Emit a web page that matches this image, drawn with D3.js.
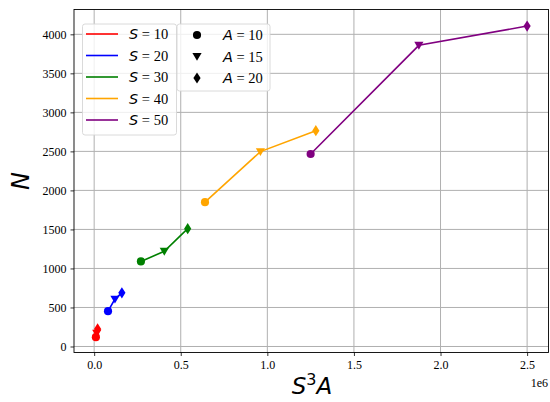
<!DOCTYPE html>
<html><head><meta charset="utf-8">
<script src="https://cdn.jsdelivr.net/npm/d3@7"></script>
<style>body{margin:0;background:#fff;} svg{display:block;}</style>
</head><body>
<script>
const sizes = [10, 20, 30, 40, 50];
const areas = [10, 15, 20];
const colors = ["red", "blue", "green", "orange", "purple"];
const N_S10 = [120, 170, 225];
const N_S20 = [453, 607, 687];
const N_S30 = [1090, 1220, 1510];
const N_S40 = [1849, 2497, 2765];
const N_S50 = [2467, 3859, 4106];
const nValues = [N_S10, N_S20, N_S30, N_S40, N_S50];
const xTicks = [0, 0.5e6, 1.0e6, 1.5e6, 2.0e6, 2.5e6];
const xTickLabels = ["0.0", "0.5", "1.0", "1.5", "2.0", "2.5"];
const yTicks = [0, 500, 1000, 1500, 2000, 2500, 3000, 3500, 4000];

const W = 550, H = 402;
const L = 74, R = 548.5, T = 9.5, B = 352.5;
const SERIF = "'Liberation Serif', 'Times New Roman', serif";
const SANS = "'DejaVu Sans', sans-serif";
const svg = d3.select("body").append("svg").attr("width", W).attr("height", H);

const x = d3.scaleLinear().domain([-0.1164e6, 2.6235e6]).range([L, R]);
const y = d3.scaleLinear().domain([-77, 4318]).range([B, T]);

// grid
const g = svg.append("g");
g.selectAll(".gx").data(xTicks).enter().append("line")
  .attr("x1", d => x(d)).attr("x2", d => x(d)).attr("y1", T).attr("y2", B)
  .attr("stroke", "#b0b0b0").attr("stroke-width", 1);
g.selectAll(".gy").data(yTicks).enter().append("line")
  .attr("y1", d => y(d)).attr("y2", d => y(d)).attr("x1", L).attr("x2", R)
  .attr("stroke", "#b0b0b0").attr("stroke-width", 1);

// axes
const xAxis = d3.axisBottom(x).tickValues(xTicks).tickFormat((d, i) => xTickLabels[i]).tickSizeOuter(0).tickSize(3.5).tickPadding(4);
const yAxis = d3.axisLeft(y).tickValues(yTicks).tickFormat(d3.format("d")).tickSizeOuter(0).tickSize(3.5).tickPadding(4);
const ax = svg.append("g").attr("transform", `translate(0,${B})`).call(xAxis);
const ay = svg.append("g").attr("transform", `translate(${L},0)`).call(yAxis);
[ax, ay].forEach(a => {
  a.attr("font-family", null).attr("font-size", null);
  a.select(".domain").remove();
  a.selectAll("text").style("font-family", SERIF).style("font-size", "12px").attr("fill", "#000");
  a.selectAll("line").attr("stroke", "#000").attr("stroke-width", 0.8);
});

// series
function markerPath(i) {
  if (i === 1) {
    const s = 4.6;
    return `M${-s},${-s*0.75}L${s},${-s*0.75}L0,${s*0.95}Z`;
  }
  if (i === 2) {
    return "M0,-5.6L3.6,0L0,5.6L-3.6,0Z";
  }
  return d3.symbol().type(d3.symbolCircle).size(52)();
}
const line = d3.line().x(d => x(d[0])).y(d => y(d[1]));
sizes.forEach((s, si) => {
  const pts = areas.map((a, ai) => [s * s * s * a, nValues[si][ai]]);
  svg.append("path").attr("d", line(pts)).attr("fill", "none")
    .attr("stroke", colors[si]).attr("stroke-width", 1.6);
  pts.forEach((p, ai) => {
    svg.append("path").attr("d", markerPath(ai))
      .attr("transform", `translate(${x(p[0])},${y(p[1])})`)
      .attr("fill", colors[si]);
  });
});

// frame
svg.append("rect").attr("x", L).attr("y", T).attr("width", R - L).attr("height", B - T)
  .attr("fill", "none").attr("stroke", "#000").attr("stroke-width", 0.9);

// labels
svg.append("text").attr("x", 312).attr("y", 394).attr("text-anchor", "middle")
  .style("font-family", SANS).style("font-size", "23px").style("font-style", "italic")
  .html('S<tspan dy="-9" font-size="16" font-style="normal">3</tspan><tspan dy="9">A</tspan>');
svg.append("text").attr("transform", "translate(29,181) rotate(-90)").attr("text-anchor", "middle")
  .style("font-family", SANS).style("font-size", "24px").style("font-style", "italic").text("N");
svg.append("text").attr("x", 548).attr("y", 387).attr("text-anchor", "end")
  .style("font-family", SERIF).style("font-size", "12px").text("1e6");

// legends
function legendBox(x0, y0, w, h) {
  svg.append("rect").attr("x", x0).attr("y", y0).attr("width", w).attr("height", h)
    .attr("rx", 2.5).attr("fill", "rgba(255,255,255,0.8)").attr("stroke", "#d6d6d6").attr("stroke-width", 0.9);
}
function legendText(x0, yy, varName, val) {
  const t = svg.append("text").attr("x", x0).attr("y", yy + 5).style("font-size", "14.5px");
  t.append("tspan").style("font-family", SANS).style("font-style", "italic").text(varName);
  t.append("tspan").style("font-family", SERIF).text(" = " + val);
}
legendBox(82.5, 24, 94, 111);
const rowY = [34, 55.5, 77, 98.5, 120];
sizes.forEach((s, i) => {
  svg.append("line").attr("x1", 86).attr("x2", 118).attr("y1", rowY[i]).attr("y2", rowY[i])
    .attr("stroke", colors[i]).attr("stroke-width", 1.6);
  legendText(129, rowY[i], "S", s);
});
legendBox(177, 24, 93, 67);
areas.forEach((a, i) => {
  svg.append("path").attr("d", markerPath(i)).attr("transform", `translate(197,${rowY[i] + 1})`).attr("fill", "#000");
  legendText(223, rowY[i] + 1, "A", a);
});
</script>
</body></html>
